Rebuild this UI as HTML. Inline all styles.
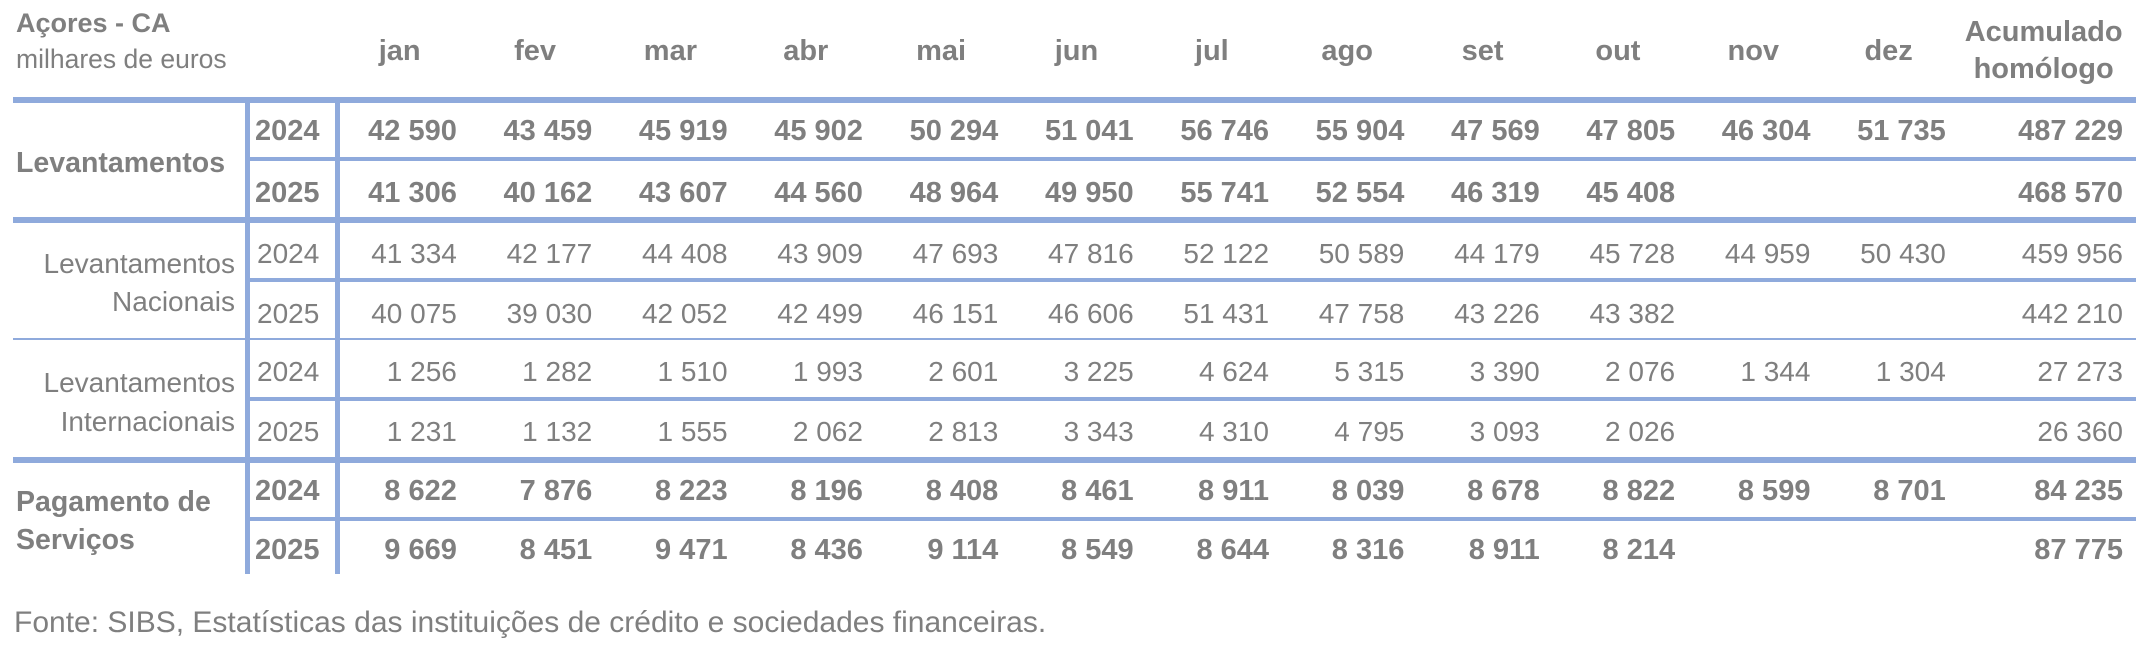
<!DOCTYPE html>
<html><head><meta charset="utf-8">
<style>
html,body{margin:0;padding:0;background:#fff;}
#c{position:relative;width:2146px;height:652px;overflow:hidden;background:#fff;font-family:"Liberation Sans",sans-serif;color:#7f7f7f;}
.t{position:absolute;line-height:1;white-space:nowrap;}
.b{font-weight:bold;}
.ln{position:absolute;background:#8faadc;}
.row{position:absolute;left:339px;width:1797px;display:flex;line-height:1;white-space:nowrap;}
.row span{display:block;box-sizing:border-box;width:135.36px;flex:0 0 135.36px;text-align:right;padding-right:17.5px;}
.row span.a{width:172.7px;flex:0 0 172.7px;padding-right:13px;}
.rb{font-weight:bold;font-size:29px;}
.rr{font-size:28px;}
.hd{position:absolute;left:339px;top:37.45px;display:flex;line-height:1;font-weight:bold;font-size:29px;white-space:nowrap;}
.hd span{display:block;box-sizing:border-box;width:135.36px;flex:0 0 135.36px;text-align:center;padding-right:14px;}
</style></head>
<body><div id="c">
<!-- title -->
<div class="t b" style="left:16px;top:10.1px;font-size:27px;">Açores - CA</div>
<div class="t" style="left:16px;top:45.6px;font-size:26.5px;">milhares de euros</div>

<!-- header months -->
<div class="hd"><span>jan</span><span>fev</span><span>mar</span><span>abr</span><span>mai</span><span>jun</span><span>jul</span><span>ago</span><span>set</span><span>out</span><span>nov</span><span>dez</span></div>
<div class="t b" style="left:1963.3px;width:160.7px;text-align:center;top:18.45px;font-size:29px;">Acumulado</div>
<div class="t b" style="left:1963.3px;width:160.7px;text-align:center;top:55.45px;font-size:29px;">homólogo</div>

<!-- lines -->
<div class="ln" style="left:13px;top:97px;width:2123px;height:6px;"></div>
<div class="ln" style="left:250px;top:157px;width:1886px;height:4px;"></div>
<div class="ln" style="left:13px;top:217px;width:2123px;height:6px;"></div>
<div class="ln" style="left:250px;top:278px;width:1886px;height:4px;"></div>
<div class="ln" style="left:13px;top:338px;width:2123px;height:2px;"></div>
<div class="ln" style="left:250px;top:397px;width:1886px;height:4px;"></div>
<div class="ln" style="left:13px;top:457px;width:2123px;height:6px;"></div>
<div class="ln" style="left:250px;top:517px;width:1886px;height:4px;"></div>
<div class="ln" style="left:245px;top:97px;width:5px;height:477px;"></div>
<div class="ln" style="left:335px;top:97px;width:5px;height:477px;"></div>

<!-- row labels -->
<div class="t b" style="left:16px;top:148.9px;font-size:28.5px;">Levantamentos</div>
<div class="t" style="right:1911px;top:249.6px;font-size:28px;">Levantamentos</div>
<div class="t" style="right:1911px;top:288px;font-size:28px;">Nacionais</div>
<div class="t" style="right:1911px;top:368.6px;font-size:28px;">Levantamentos</div>
<div class="t" style="right:1911px;top:408px;font-size:28px;">Internacionais</div>
<div class="t b" style="left:16px;top:487.9px;font-size:28.5px;">Pagamento de</div>
<div class="t b" style="left:16px;top:525.9px;font-size:28.5px;">Serviços</div>

<!-- years -->
<div class="t b" style="left:255px;top:117.45px;font-size:29px;">2024</div>
<div class="t b" style="left:255px;top:179.45px;font-size:29px;">2025</div>
<div class="t" style="left:257px;top:239.6px;font-size:28px;">2024</div>
<div class="t" style="left:257px;top:299.6px;font-size:28px;">2025</div>
<div class="t" style="left:257px;top:358px;font-size:28px;">2024</div>
<div class="t" style="left:257px;top:418px;font-size:28px;">2025</div>
<div class="t b" style="left:255px;top:477.15px;font-size:29px;">2024</div>
<div class="t b" style="left:255px;top:536.15px;font-size:29px;">2025</div>

<!-- values -->
<div class="row rb" style="top:117.45px;"><span>42 590</span><span>43 459</span><span>45 919</span><span>45 902</span><span>50 294</span><span>51 041</span><span>56 746</span><span>55 904</span><span>47 569</span><span>47 805</span><span>46 304</span><span>51 735</span><span class="a">487 229</span></div>
<div class="row rb" style="top:179.45px;"><span>41 306</span><span>40 162</span><span>43 607</span><span>44 560</span><span>48 964</span><span>49 950</span><span>55 741</span><span>52 554</span><span>46 319</span><span>45 408</span><span></span><span></span><span class="a">468 570</span></div>
<div class="row rr" style="top:239.6px;"><span>41 334</span><span>42 177</span><span>44 408</span><span>43 909</span><span>47 693</span><span>47 816</span><span>52 122</span><span>50 589</span><span>44 179</span><span>45 728</span><span>44 959</span><span>50 430</span><span class="a">459 956</span></div>
<div class="row rr" style="top:299.6px;"><span>40 075</span><span>39 030</span><span>42 052</span><span>42 499</span><span>46 151</span><span>46 606</span><span>51 431</span><span>47 758</span><span>43 226</span><span>43 382</span><span></span><span></span><span class="a">442 210</span></div>
<div class="row rr" style="top:358px;"><span>1 256</span><span>1 282</span><span>1 510</span><span>1 993</span><span>2 601</span><span>3 225</span><span>4 624</span><span>5 315</span><span>3 390</span><span>2 076</span><span>1 344</span><span>1 304</span><span class="a">27 273</span></div>
<div class="row rr" style="top:418px;"><span>1 231</span><span>1 132</span><span>1 555</span><span>2 062</span><span>2 813</span><span>3 343</span><span>4 310</span><span>4 795</span><span>3 093</span><span>2 026</span><span></span><span></span><span class="a">26 360</span></div>
<div class="row rb" style="top:477.15px;"><span>8 622</span><span>7 876</span><span>8 223</span><span>8 196</span><span>8 408</span><span>8 461</span><span>8 911</span><span>8 039</span><span>8 678</span><span>8 822</span><span>8 599</span><span>8 701</span><span class="a">84 235</span></div>
<div class="row rb" style="top:536.15px;"><span>9 669</span><span>8 451</span><span>9 471</span><span>8 436</span><span>9 114</span><span>8 549</span><span>8 644</span><span>8 316</span><span>8 911</span><span>8 214</span><span></span><span></span><span class="a">87 775</span></div>

<!-- footer -->
<div class="t" style="left:14px;top:607.9px;font-size:30px;">Fonte: SIBS, Estatísticas das instituições de crédito e sociedades financeiras.</div>
</div></body></html>
